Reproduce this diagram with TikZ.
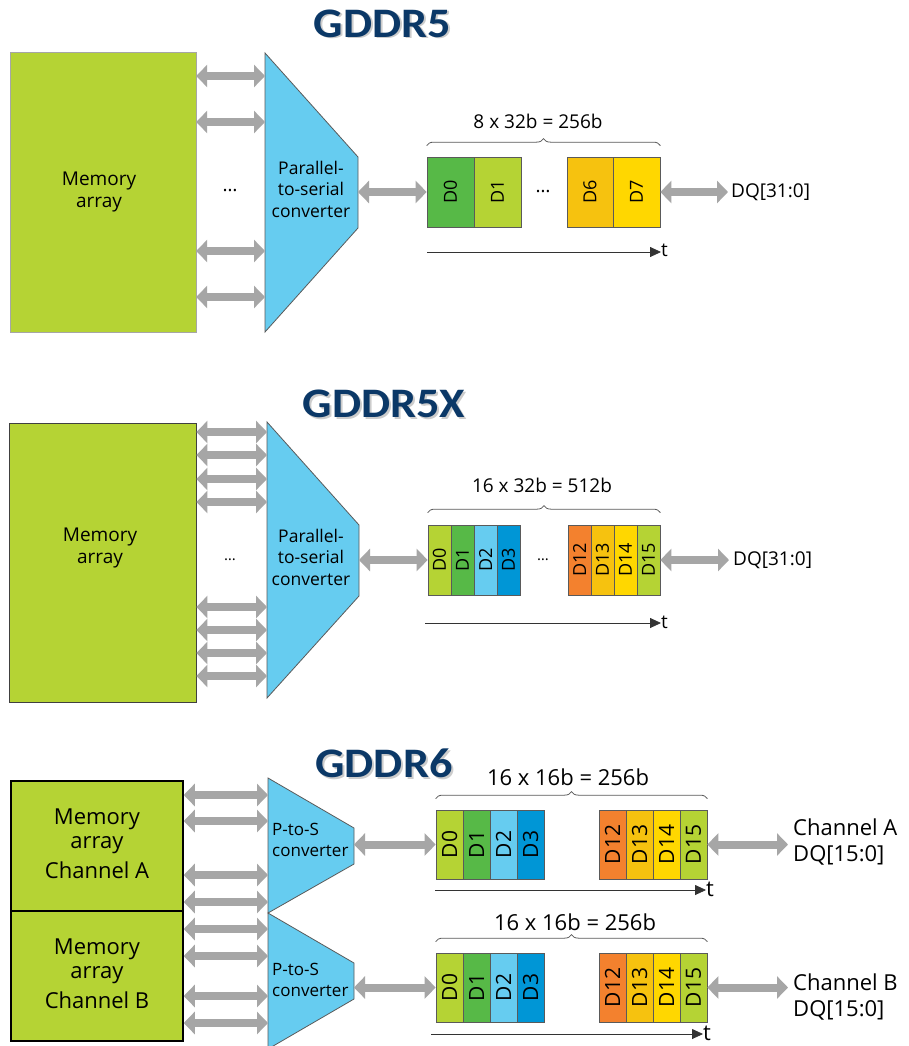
\documentclass[tikz,border=0pt]{standalone}
\usepackage{fontspec}
\setmainfont{Open Sans}
\newfontfamily\titlefont{Carlito}
\usetikzlibrary{arrows.meta,decorations.pathreplacing,calc}

\definecolor{cLime}{HTML}{B5D334}
\definecolor{cGreen}{HTML}{57B947}
\definecolor{cSky}{HTML}{66CCF0}
\definecolor{cBlue}{HTML}{0096D6}
\definecolor{cOrange}{HTML}{F3812E}
\definecolor{cAmber}{HTML}{F6C20F}
\definecolor{cYellow}{HTML}{FFD700}
\definecolor{cBus}{HTML}{A6A6A6}
\definecolor{cNavy}{HTML}{0B3867}
\definecolor{cEdge}{HTML}{5A5A5A}

\newcommand\fs[1]{\fontsize{#1}{#1}\selectfont}
\newcommand\wide[1]{\scalebox{1.1}[1]{#1}}

\tikzset{
  bus/.style={draw=cBus, line width=8pt,
    {Triangle[width=22pt,length=11pt]}-{Triangle[width=22pt,length=11pt]}},
  mem/.style={draw=#1, fill=cLime, inner sep=0pt},
  memtext/.style={align=center, font=\fontsize{19}{22}\selectfont, inner sep=0pt},
  memtextsix/.style={align=center, font=\fontsize{22}{24}\selectfont, inner sep=0pt},
  conv/.style={draw=cEdge, fill=cSky, line width=0.8pt},
  convtext/.style={align=center, font=\fontsize{17.5}{21.5}\selectfont, inner sep=0pt},
  convtextsix/.style={align=left, font=\fontsize{17}{21.5}\selectfont, inner sep=0pt},
  cellbox/.style={draw=cEdge, line width=0.7pt, inner sep=0pt, minimum height=70,
    font=\fs{18}},
  cellsix/.style={draw=cEdge, line width=0.7pt, inner sep=0pt, minimum height=69,
    minimum width=27, font=\fs{21}},
  bracebar/.style={draw=cEdge, line width=0.8pt, decorate,
    decoration={brace, amplitude=7pt}},
  note/.style={font=\fs{19}, inner sep=0pt},
  notesix/.style={font=\fontsize{22}{26}\selectfont, inner sep=0pt},
  timeaxis/.style={draw=black!80, line width=0.8pt, -{Triangle[width=10pt,length=11pt]}},
  heading/.style={font=\titlefont\bfseries\fs{42}, text=cNavy, anchor=base, inner sep=0pt},
  headshadow/.style={font=\titlefont\bfseries\fs{42}, text=black, opacity=0.2,
    anchor=base, inner sep=0pt},
}

\begin{document}
\begin{tikzpicture}[x=1pt,y=-1pt]
\useasboundingbox (0,0) rectangle (909,1046);
\fill[white] (0,0) rectangle (909,1046);

% ---------------- GDDR5 ----------------
\node[headshadow] (h5s) at (384.5,39) {\wide{GDDR5}};
\node[heading] (h5) at (382.5,37.5) {\wide{GDDR5}};

\node[mem=cBus, minimum width=186, minimum height=280] (mem5) at (103,192) {};
\node[memtext] (mem5t) at (99,192) {Memory\\array};

\coordinate (cv5a) at (265,53);
\coordinate (cv5b) at (358,157);
\coordinate (cv5c) at (358,228);
\coordinate (cv5d) at (265,332);
\draw[conv] (cv5a) -- (cv5b) -- (cv5c) -- (cv5d) -- cycle;
\node[convtext] (cv5) at (311,189) {Parallel-\\to-serial\\converter};

\foreach \yy in {76,122,251,297}
  \draw[bus] (mem5.east |- 0,\yy) -- (cv5a |- 0,\yy);
\node[note] (dots5a) at (230,191) {\ldots};

\node[cellbox, fill=cGreen, minimum width=47] (c5a) at (450.5,192) {\rotatebox{90}{D0}};
\node[cellbox, fill=cLime, minimum width=47] (c5b) at (497.5,192) {\rotatebox{90}{D1}};
\node[cellbox, fill=cAmber, minimum width=46] (c5g) at (590,192) {\rotatebox{90}{D6}};
\node[cellbox, fill=cYellow, minimum width=47] (c5h) at (636.5,192) {\rotatebox{90}{D7}};
\node[note] (dots5b) at (543,192) {\ldots};

\draw[bus] (cv5b |- c5a.west) -- (c5a.west);

\draw[bracebar] ($(c5a.north west)+(0,-11)$) -- ($(c5h.north east)+(0,-11)$);
\node[note] (bits5) at (538,121) {8 x 32b = 256b};

\node[note, anchor=west] (dq5) at (731,192) {DQ[31:0]};
\draw[bus] (c5h.east) -- ($(dq5.west)+(-3,0)$);

\node[note, anchor=west] (t5) at (661,250) {t};
\coordinate (t5s) at (427,252);
\draw[timeaxis] (t5s) -- (t5.west |- t5s);

% ---------------- GDDR5X ----------------
\node[headshadow] (h5xs) at (386,419) {\wide{GDDR5X}};
\node[heading] (h5x) at (384,417.5) {\wide{GDDR5X}};

\node[mem=black!75, line width=0.9pt, minimum width=187, minimum height=279] (mem5x) at (102.5,562.5) {};
\node[memtext] (mem5xt) at (100,548) {Memory\\array};

\coordinate (cv5xa) at (267,422);
\coordinate (cv5xb) at (359,525);
\coordinate (cv5xc) at (359,596);
\coordinate (cv5xd) at (267,698);
\draw[conv] (cv5xa) -- (cv5xb) -- (cv5xc) -- (cv5xd) -- cycle;
\node[convtext] (cv5x) at (311,557) {Parallel-\\to-serial\\converter};

\foreach \yy in {432,455,479,502,607,630,653,676}
  \draw[bus] (mem5x.east |- 0,\yy) -- (cv5xa |- 0,\yy);
\node[font=\fs{15}, inner sep=0pt] (dots5xa) at (230,560) {\ldots};

\foreach \nm/\xx/\col/\lab in {a/439.5/cLime/D0, b/462.5/cGreen/D1, c/485.5/cSky/D2,
    d/508.5/cBlue/D3, m/579.5/cOrange/D12, n/602.5/cAmber/D13, o/625.5/cYellow/D14,
    p/648.5/cLime/D15}
  \node[cellbox, fill=\col, minimum width=23] (c5x\nm) at (\xx,560) {\rotatebox{90}{\lab}};
\node[font=\fs{15}, inner sep=0pt] (dots5xb) at (543,560) {\ldots};

\draw[bus] (cv5xb |- c5xa.west) -- (c5xa.west);

\draw[bracebar] ($(c5xa.north west)+(0,-12)$) -- ($(c5xp.north east)+(0,-12)$);
\node[note] (bits5x) at (542,485) {16 x 32b = 512b};

\node[note, anchor=west] (dq5x) at (733,560) {DQ[31:0]};
\draw[bus] (c5xp.east) -- ($(dq5x.west)+(-4,0)$);

\node[note, anchor=west] (t5x) at (661,622) {t};
\coordinate (t5xs) at (425,623);
\draw[timeaxis] (t5xs) -- (t5x.west |- t5xs);

% ---------------- GDDR6 ----------------
\node[headshadow] (h6s) at (386,779) {\wide{GDDR6}};
\node[heading] (h6) at (384,777.5) {\wide{GDDR6}};

\node[mem=black, line width=1.5pt, minimum width=172, minimum height=130] (mem6a) at (97,846) {};
\node[mem=black, line width=1.5pt, minimum width=172, minimum height=130] (mem6b) at (97,976) {};
\node[memtextsix] (mem6at) at (97,844) {Memory\\array\\[6pt]Channel A};
\node[memtextsix] (mem6bt) at (97,974) {Memory\\array\\[6pt]Channel B};

\coordinate (cv6aa) at (268,778);
\coordinate (cv6ab) at (354,828);
\coordinate (cv6ac) at (354,864);
\coordinate (cv6ad) at (268,913);
\draw[conv] (cv6aa) -- (cv6ab) -- (cv6ac) -- (cv6ad) -- cycle;
\coordinate (cv6ba) at (268,913);
\coordinate (cv6bb) at (354,963);
\coordinate (cv6bc) at (354,999);
\coordinate (cv6bd) at (268,1049);
\draw[conv] (cv6ba) -- (cv6bb) -- (cv6bc) -- (cv6bd) -- cycle;
\node[convtextsix, anchor=west] (cv6a) at (272,840) {P-to-S\\converter};
\node[convtextsix, anchor=west] (cv6b) at (272,980) {P-to-S\\converter};

\foreach \yy in {795,821,875,902}
  \draw[bus] (mem6a.east |- 0,\yy) -- (cv6aa |- 0,\yy);
\foreach \yy in {929,956,996,1023}
  \draw[bus] (mem6b.east |- 0,\yy) -- (cv6ba |- 0,\yy);

% channel A burst
\foreach \nm/\xx/\col/\lab in {a/449.5/cLime/D0, b/476.5/cGreen/D1, c/503.5/cSky/D2,
    d/530.5/cBlue/D3, m/612.5/cOrange/D12, n/639.5/cAmber/D13, o/666.5/cYellow/D14,
    p/693.5/cLime/D15}
  \node[cellsix, fill=\col] (c6a\nm) at (\xx,844.5) {\rotatebox{90}{\lab}};
\draw[bus] (cv6ab |- c6aa.west) -- (c6aa.west);
\draw[bracebar] ($(c6aa.north west)+(0,-11)$) -- ($(c6ap.north east)+(0,-11)$);
\node[notesix] (bits6a) at (568,777) {16 x 16b = 256b};
\node[notesix, anchor=west, align=left] (dq6a) at (793,842) {Channel A\\DQ[15:0]};
\draw[bus] (c6ap.east) -- ($(dq6a.west |- c6ap.east)+(-5,0)$);
\node[notesix, anchor=west] (t6a) at (706,889) {t};
\coordinate (t6as) at (435,890);
\draw[timeaxis] (t6as) -- (t6a.west |- t6as);

% channel B burst
\foreach \nm/\xx/\col/\lab in {a/449.5/cLime/D0, b/476.5/cGreen/D1, c/503.5/cSky/D2,
    d/530.5/cBlue/D3, m/612.5/cOrange/D12, n/639.5/cAmber/D13, o/666.5/cYellow/D14,
    p/693.5/cLime/D15}
  \node[cellsix, fill=\col] (c6b\nm) at (\xx,987.5) {\rotatebox{90}{\lab}};
\draw[bus] (cv6bb |- c6ba.west) -- (c6ba.west);
\draw[bracebar] ($(c6ba.north west)+(0,-11)$) -- ($(c6bp.north east)+(0,-11)$);
\node[notesix] (bits6b) at (575,922) {16 x 16b = 256b};
\node[notesix, anchor=west, align=left] (dq6b) at (793,997) {Channel B\\DQ[15:0]};
\draw[bus] (c6bp.east) -- ($(dq6b.west |- c6bp.east)+(-5,0)$);
\node[notesix, anchor=west] (t6b) at (703,1033) {t};
\coordinate (t6bs) at (431,1034);
\draw[timeaxis] (t6bs) -- (t6b.west |- t6bs);
\end{tikzpicture}
\end{document}
